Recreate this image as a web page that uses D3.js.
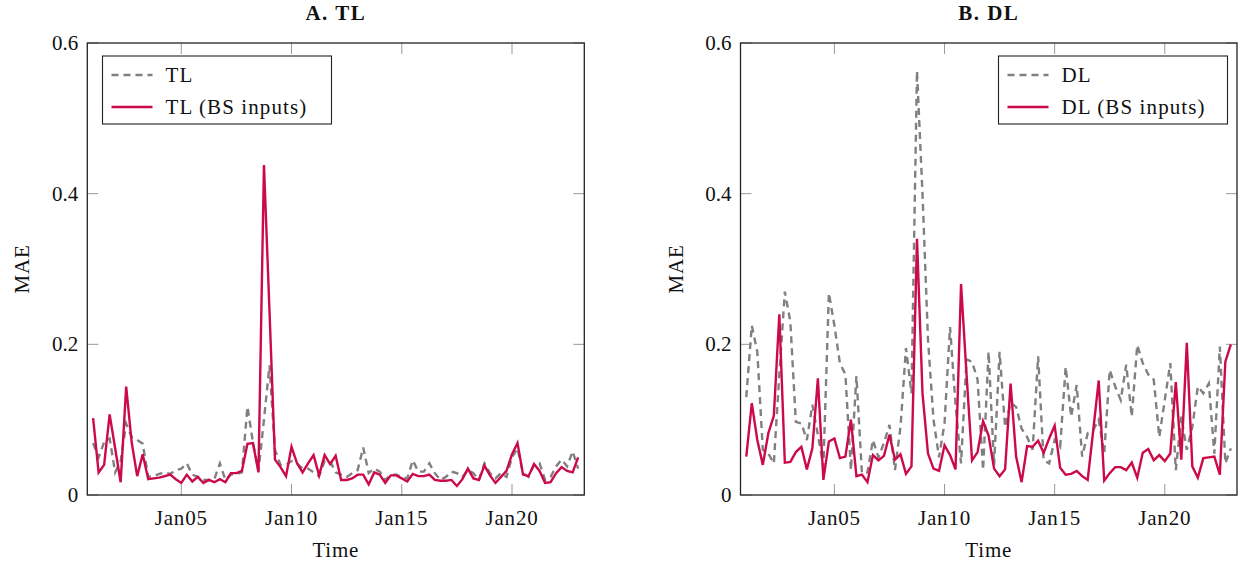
<!DOCTYPE html>
<html>
<head>
<meta charset="utf-8">
<script src="https://cdn.jsdelivr.net/npm/d3@7"></script>
<style>
  body { margin: 0; background: #fff; }
  svg text { font-family: "Liberation Serif", "Times New Roman", serif; fill: #111; }
</style>
</head>
<body>
<div id="chart"></div>
<script>
// MAE per 6-hour step, Jan01 00:00 .. Jan23 00:00 (89 points)
var tlBase = [0.069, 0.050, 0.070, 0.075, 0.030, 0.045, 0.095, 0.077, 0.073, 0.068,
    0.024, 0.025, 0.028, 0.030, 0.028, 0.033, 0.035, 0.042, 0.027, 0.024,
    0.020, 0.020, 0.021, 0.042, 0.020, 0.027, 0.028, 0.030, 0.117, 0.070,
    0.032, 0.100, 0.172, 0.060, 0.040, 0.040, 0.045, 0.042, 0.035, 0.035,
    0.030, 0.025, 0.045, 0.045, 0.030, 0.027, 0.024, 0.029, 0.033, 0.063,
    0.029, 0.035, 0.031, 0.020, 0.027, 0.027, 0.024, 0.022, 0.046, 0.031,
    0.031, 0.042, 0.029, 0.020, 0.024, 0.031, 0.029, 0.024, 0.033, 0.029,
    0.020, 0.042, 0.029, 0.022, 0.029, 0.024, 0.050, 0.062, 0.029, 0.024,
    0.040, 0.042, 0.020, 0.024, 0.038, 0.047, 0.038, 0.058, 0.035];

var tlBs = [0.102, 0.030, 0.040, 0.107, 0.062, 0.017, 0.144, 0.070, 0.025, 0.054,
    0.021, 0.022, 0.023, 0.025, 0.027, 0.021, 0.016, 0.027, 0.018, 0.024,
    0.016, 0.020, 0.017, 0.021, 0.017, 0.029, 0.029, 0.032, 0.068, 0.069,
    0.030, 0.438, 0.245, 0.047, 0.037, 0.025, 0.064, 0.042, 0.030, 0.042,
    0.053, 0.026, 0.053, 0.041, 0.052, 0.020, 0.020, 0.022, 0.027, 0.027,
    0.014, 0.030, 0.027, 0.016, 0.026, 0.026, 0.022, 0.018, 0.028, 0.025,
    0.025, 0.027, 0.020, 0.019, 0.019, 0.020, 0.012, 0.021, 0.035, 0.022,
    0.020, 0.039, 0.026, 0.016, 0.024, 0.032, 0.054, 0.069, 0.027, 0.025,
    0.041, 0.032, 0.016, 0.017, 0.029, 0.037, 0.032, 0.030, 0.050];

var dlBase = [0.130, 0.225, 0.190, 0.060, 0.055, 0.042, 0.160, 0.270, 0.230, 0.097,
    0.095, 0.073, 0.120, 0.080, 0.038, 0.268, 0.225, 0.175, 0.160, 0.033,
    0.158, 0.029, 0.030, 0.073, 0.050, 0.069, 0.093, 0.033, 0.090, 0.195,
    0.135, 0.563, 0.400, 0.206, 0.100, 0.050, 0.095, 0.223, 0.120, 0.042,
    0.180, 0.177, 0.153, 0.033, 0.190, 0.040, 0.190, 0.090, 0.122, 0.117,
    0.088, 0.077, 0.060, 0.184, 0.046, 0.042, 0.073, 0.064, 0.170, 0.104,
    0.146, 0.051, 0.082, 0.086, 0.100, 0.055, 0.166, 0.144, 0.126, 0.173,
    0.104, 0.199, 0.175, 0.160, 0.153, 0.077, 0.126, 0.175, 0.033, 0.104,
    0.060, 0.090, 0.144, 0.135, 0.148, 0.055, 0.197, 0.042, 0.062];

var dlBs = [0.051, 0.122, 0.073, 0.040, 0.082, 0.105, 0.240, 0.043, 0.044, 0.057,
    0.064, 0.034, 0.062, 0.155, 0.020, 0.071, 0.075, 0.049, 0.051, 0.100,
    0.025, 0.027, 0.017, 0.053, 0.046, 0.052, 0.080, 0.047, 0.054, 0.028,
    0.038, 0.340, 0.135, 0.055, 0.035, 0.032, 0.066, 0.053, 0.034, 0.280,
    0.160, 0.046, 0.057, 0.098, 0.079, 0.035, 0.025, 0.034, 0.148, 0.051,
    0.017, 0.065, 0.064, 0.072, 0.056, 0.075, 0.092, 0.036, 0.027, 0.028,
    0.032, 0.025, 0.020, 0.085, 0.152, 0.019, 0.029, 0.037, 0.037, 0.033,
    0.043, 0.023, 0.056, 0.061, 0.046, 0.053, 0.045, 0.055, 0.150, 0.047,
    0.202, 0.038, 0.023, 0.049, 0.050, 0.051, 0.027, 0.177, 0.200];

var yTicks = [0, 0.2, 0.4, 0.6];
var xTickDays = [5, 10, 15, 20];
var panelTitles = ["A. TL", "B. DL"];
var legendNames = [["TL", "TL (BS inputs)"], ["DL", "DL (BS inputs)"]];

var W = 1238, H = 562;
var red = "#cc0a47", grey = "#808080";

var times = d3.utcHour.every(6).range(new Date(Date.UTC(2021, 0, 1)), new Date(Date.UTC(2021, 0, 23, 1)));

var svg = d3.select("#chart").append("svg")
    .attr("width", W)
    .attr("height", H);

var boxTop = 43, boxBottom = 495;

function drawPanel(k, left, right, base, bs, legendX) {
    var x = d3.scaleUtc()
        .domain([new Date(Date.UTC(2021, 0, 1) - 0.263 * 864e5), new Date(Date.UTC(2021, 0, 23) + 0.279 * 864e5)])
        .range([left, right]);
    var y = d3.scaleLinear().domain([0, 0.6]).range([boxBottom, boxTop]);

    var g = svg.append("g");

    var tickDates = xTickDays.map(function (d) { return new Date(Date.UTC(2021, 0, d)); });

    // ticks inside the box, mirrored on all sides
    tickDates.forEach(function (d) {
        g.append("line").attr("x1", x(d)).attr("x2", x(d)).attr("y1", boxBottom).attr("y2", boxBottom - 11)
            .attr("stroke", "#999").attr("stroke-width", 1);
        g.append("line").attr("x1", x(d)).attr("x2", x(d)).attr("y1", boxTop).attr("y2", boxTop + 11)
            .attr("stroke", "#999").attr("stroke-width", 1);
        g.append("text")
            .attr("x", x(d))
            .attr("y", 525)
            .attr("text-anchor", "middle")
            .style("font-size", "21px")
            .style("letter-spacing", "0.8px")
            .text(d3.utcFormat("%b%d")(d));
    });
    yTicks.forEach(function (v) {
        g.append("line").attr("x1", left).attr("x2", left + 11).attr("y1", y(v)).attr("y2", y(v))
            .attr("stroke", "#999").attr("stroke-width", 1);
        g.append("line").attr("x1", right).attr("x2", right - 11).attr("y1", y(v)).attr("y2", y(v))
            .attr("stroke", "#999").attr("stroke-width", 1);
        g.append("text")
            .attr("x", left - 9)
            .attr("y", y(v) + 7)
            .attr("text-anchor", "end")
            .style("font-size", "21px")
            .text(v === 0 ? "0" : d3.format(".1f")(v));
    });

    var line = d3.line()
        .x(function (d, i) { return x(times[i]); })
        .y(function (d) { return y(d); });

    g.append("path")
        .datum(base)
        .attr("d", line)
        .attr("fill", "none")
        .attr("stroke", grey)
        .attr("stroke-width", 2.4)
        .attr("stroke-dasharray", "7,5");

    g.append("path")
        .datum(bs)
        .attr("d", line)
        .attr("fill", "none")
        .attr("stroke", red)
        .attr("stroke-width", 2.4)
        .attr("stroke-linejoin", "miter");

    g.append("rect")
        .attr("x", left).attr("y", boxTop)
        .attr("width", right - left).attr("height", boxBottom - boxTop)
        .attr("fill", "none").attr("stroke", "#222").attr("stroke-width", 1.3);

    // title and axis labels
    var cx = (left + right) / 2;
    g.append("text")
        .attr("x", cx).attr("y", 20)
        .attr("text-anchor", "middle")
        .style("font-size", "21px").style("font-weight", "bold").style("letter-spacing", "1.5px")
        .text(panelTitles[k]);
    g.append("text")
        .attr("x", cx).attr("y", 557)
        .attr("text-anchor", "middle")
        .style("font-size", "21px").style("letter-spacing", "0.8px")
        .text("Time");
    g.append("text")
        .attr("transform", "translate(" + (left - 58) + "," + ((boxTop + boxBottom) / 2) + ") rotate(-90)")
        .attr("text-anchor", "middle")
        .style("font-size", "21px").style("letter-spacing", "0.8px")
        .text("MAE");

    // legend
    var lg = g.append("g").attr("transform", "translate(" + legendX + "," + 56 + ")");
    lg.append("rect")
        .attr("width", 229).attr("height", 68)
        .attr("fill", "#fff").attr("stroke", "#222").attr("stroke-width", 1.1);
    var rows = [{ c: grey, dash: "7,5" }, { c: red, dash: null }];
    rows.forEach(function (r, i) {
        var ry = 19 + i * 32;
        lg.append("line")
            .attr("x1", 9).attr("x2", 50).attr("y1", ry).attr("y2", ry)
            .attr("stroke", r.c).attr("stroke-width", 2.4)
            .attr("stroke-dasharray", r.dash);
        lg.append("text")
            .attr("x", 63).attr("y", ry + 7)
            .style("font-size", "21px").style("letter-spacing", "1.1px")
            .text(legendNames[k][i]);
    });
}

drawPanel(0, 87.3, 584.3, tlBase, tlBs, 102.5);
drawPanel(1, 740.5, 1237, dlBase, dlBs, 998.5);
</script>
</body>
</html>
